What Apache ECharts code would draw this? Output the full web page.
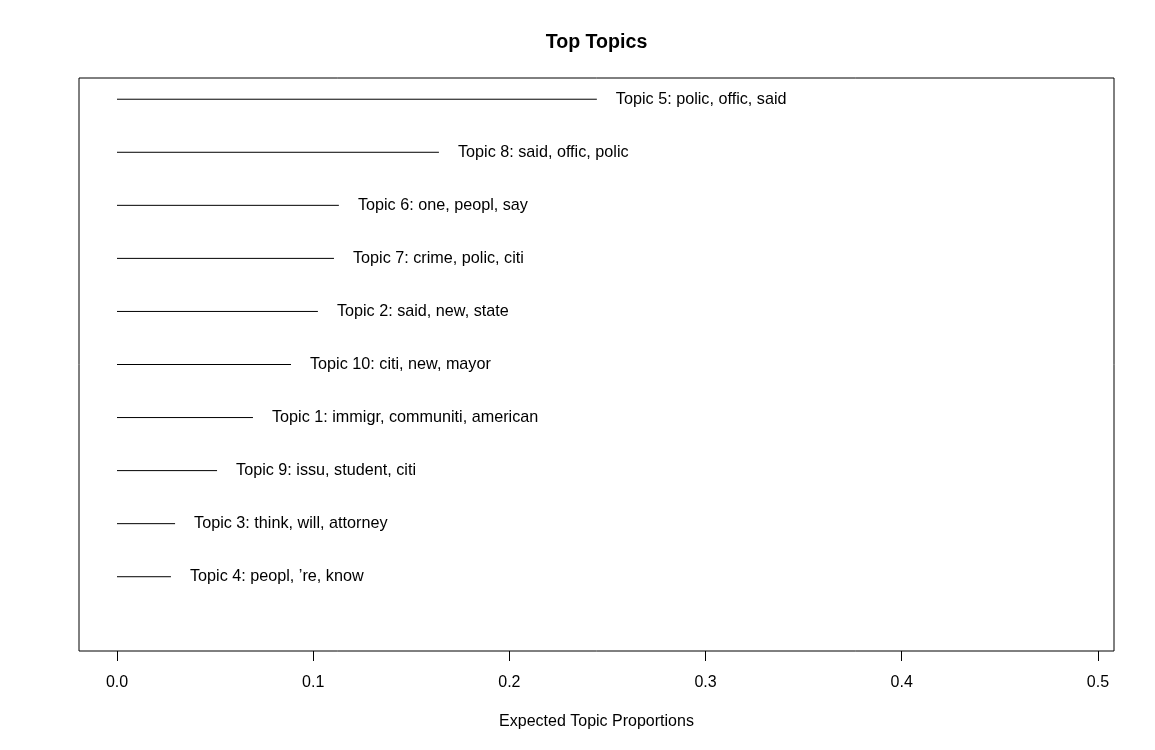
<!DOCTYPE html>
<html>
<head>
<meta charset="utf-8">
<title>Top Topics</title>
<script src="https://cdn.jsdelivr.net/npm/echarts@6/dist/echarts.min.js"></script>
<style>
  html, body { margin: 0; padding: 0; background: #fff; }
  #main { width: 1155px; height: 750px; }
</style>
</head>
<body>
<div id="main"></div>
<script type="text/javascript">
// topics, top to bottom as drawn
var topicLabels = [
    'Topic 5: polic, offic, said',
    'Topic 8: said, offic, polic',
    'Topic 6: one, peopl, say',
    'Topic 7: crime, polic, citi',
    'Topic 2: said, new, state',
    'Topic 10: citi, new, mayor',
    'Topic 1: immigr, communiti, american',
    'Topic 9: issu, student, citi',
    'Topic 3: think, will, attorney',
    'Topic 4: peopl, \u2019re, know'
];
var topicProportions = [0.2446, 0.1641, 0.1131, 0.1106, 0.1024, 0.0887, 0.0693, 0.0510, 0.0296, 0.0275];
var tickValues = [0, 0.1, 0.2, 0.3, 0.4, 0.5];

var FONT = '"Liberation Sans", Arial, Helvetica, sans-serif';

var chartData = topicProportions.map(function (v, i) {
    return [v, topicLabels.length - i, topicLabels[i]];
});

var myChart = echarts.init(document.getElementById('main'));

var option = {
    backgroundColor: '#fff',
    animation: false,
    graphic: [{
        type: 'text',
        x: 596.5,
        y: 42.5,
        style: {
            text: 'Top Topics',
            fill: '#000',
            font: 'bold 19.6px ' + FONT,
            align: 'center',
            verticalAlign: 'middle'
        }
    }],
    grid: {
        left: 79, right: 41, top: 78, bottom: 99,
        show: true,
        borderColor: '#000',
        borderWidth: 1,
        backgroundColor: 'transparent'
    },
    xAxis: {
        type: 'value',
        min: -0.01937,
        max: 0.5082,
        axisLine: { show: false, onZero: false },
        splitLine: { show: false },
        axisTick: {
            show: true,
            length: 10,
            customValues: tickValues,
            lineStyle: { color: '#000', width: 1 }
        },
        axisLabel: {
            customValues: tickValues,
            margin: 24,
            color: '#000',
            fontFamily: FONT,
            fontSize: 16,
            formatter: function (v) { return v.toFixed(1); }
        },
        name: 'Expected Topic Proportions',
        nameLocation: 'middle',
        nameGap: 63,
        nameTextStyle: { fontFamily: FONT, fontSize: 16, color: '#000' }
    },
    yAxis: {
        type: 'value',
        min: -0.4,
        max: 10.4,
        show: false
    },
    series: [{
        type: 'custom',
        data: chartData,
        renderItem: function (params, api) {
            var start = api.coord([0, api.value(1)]);
            var end = api.coord([api.value(0), api.value(1)]);
            return {
                type: 'group',
                children: [{
                    type: 'line',
                    shape: { x1: start[0], y1: start[1], x2: end[0], y2: end[1] },
                    style: { stroke: '#000', lineWidth: 1 }
                }, {
                    type: 'text',
                    style: {
                        x: end[0] + 19,
                        y: end[1],
                        text: chartData[params.dataIndex][2],
                        fill: '#000',
                        font: '16.2px ' + FONT,
                        verticalAlign: 'middle',
                        align: 'left'
                    }
                }]
            };
        }
    }]
};

myChart.setOption(option);
</script>
</body>
</html>
